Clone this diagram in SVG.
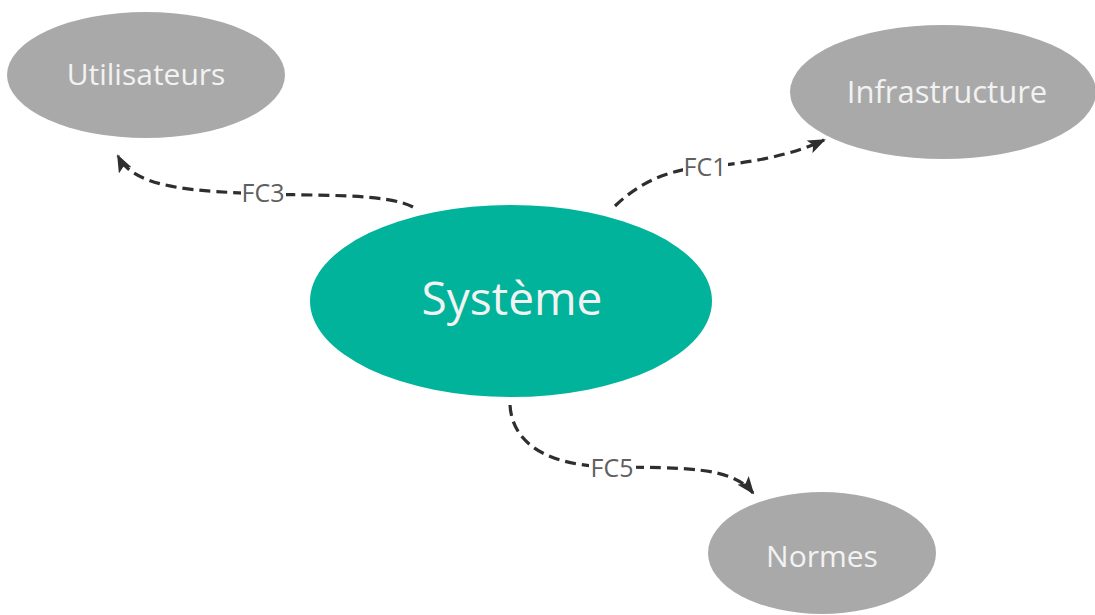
<svg xmlns="http://www.w3.org/2000/svg" width="1095" height="615" viewBox="0 0 1095 615">
  <defs>
    <style>
      .satellite { fill: #a9a9a9; }
      .core { fill: #00b39a; }
      .node-label { font-family: "Open Sans", "Noto Sans", sans-serif; fill: #f2f2f2; text-anchor: middle; }
      .edge { fill: none; stroke: #2e2e2e; stroke-width: 3.2; stroke-dasharray: 11 6; marker-end: url(#arrow); }
      .edge-bg { fill: #ffffff; }
      .edge-label { font-family: "Open Sans", "Noto Sans", sans-serif; font-size: 25px; fill: #5f5f5f; text-anchor: middle; }
    </style>
    <marker id="arrow" viewBox="0 0 18 14" refX="16" refY="7" markerWidth="18" markerHeight="14" markerUnits="userSpaceOnUse" orient="auto">
      <path d="M0,0 L18,7 L0,14 L4,7 Z" fill="#2e2e2e"/>
    </marker>
  </defs>
  <rect width="1095" height="615" fill="#ffffff"/>

  <g id="connectors">
    <g id="fc3">
      <path class="edge" d="M413,207 C385,193 320,196 263,194 C200,191 135,190 118,156"/>
      <rect class="edge-bg" x="241" y="182" width="45" height="24"/>
      <text class="edge-label" x="263" y="202">FC3</text>
    </g>
    <g id="fc1">
      <path class="edge" d="M615,206 C640,182 668,170 703,167 C752,163 792,155 824,140"/>
      <rect class="edge-bg" x="683" y="155" width="45" height="24"/>
      <text class="edge-label" x="705" y="176">FC1</text>
    </g>
    <g id="fc5">
      <path class="edge" d="M510,405 C512,442 545,466 612,467 C682,468 732,466 753,493"/>
      <rect class="edge-bg" x="589" y="455" width="47" height="24"/>
      <text class="edge-label" x="612" y="477">FC5</text>
    </g>
  </g>

  <g id="utilisateurs">
    <ellipse class="satellite" cx="146" cy="75" rx="139" ry="63"/>
    <text class="node-label" x="146" y="85" font-size="30">Utilisateurs</text>
  </g>

  <g id="infrastructure">
    <ellipse class="satellite" cx="943" cy="92" rx="153" ry="67"/>
    <text class="node-label" x="947" y="103" font-size="31">Infrastructure</text>
  </g>

  <g id="normes">
    <ellipse class="satellite" cx="822" cy="553" rx="114" ry="61"/>
    <text class="node-label" x="822" y="567" font-size="30">Normes</text>
  </g>

  <g id="systeme">
    <ellipse class="core" cx="511" cy="301" rx="201" ry="96"/>
    <text class="node-label" x="512" y="315" font-size="46">Système</text>
  </g>
</svg>
